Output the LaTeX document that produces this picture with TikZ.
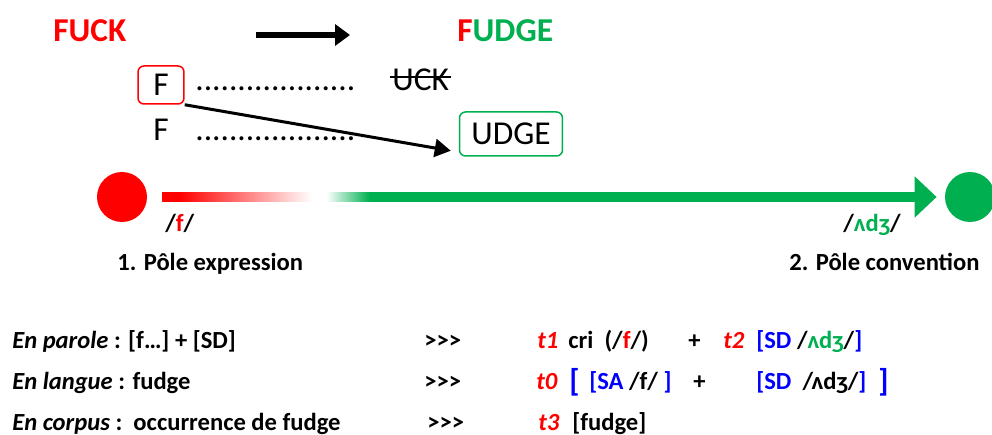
\documentclass[tikz,border=0pt]{standalone}
\usepackage{fontspec}
\setmainfont{Carlito}
\usetikzlibrary{arrows.meta,calc}
\definecolor{pred}{RGB}{255,0,0}
\definecolor{pgreen}{RGB}{0,176,80}
\definecolor{pblue}{RGB}{0,0,255}
% red -> white -> green along the axis
\pgfdeclarehorizontalshading{polebar}{100bp}{color(0bp)=(pred); color(28bp)=(pred);
  color(51bp)=(white); color(53.5bp)=(white); color(61bp)=(pgreen); color(100bp)=(pgreen)}
\newcommand{\ipa}{ʌdʒ}
\begin{document}
\begin{tikzpicture}[x=0.02cm, y=-0.02cm,
    lbl/.style={inner sep=0, anchor=base west},
    bigtxt/.style={font=\fontsize{19}{22}\selectfont},
    rowtxt/.style={lbl, font=\bfseries\fontsize{14}{16}\selectfont},
    pole/.style={circle, inner sep=0, minimum size=1cm},
    frame/.style={draw, rounded corners=0.12cm, line width=0.03cm, bigtxt}]
    \useasboundingbox (0,0) rectangle (992,435);
    % word change
    \node[lbl, font=\bfseries\fontsize{19}{22}\selectfont, text=pred] (fuck) at (53,42) {FUCK};
    \node[lbl, font=\bfseries\fontsize{19}{22}\selectfont] (fudge) at (457,42) {\textcolor{pred}{F}\textcolor{pgreen}{UDGE}};
    \coordinate (wstart) at (256,35);
    \coordinate (wend) at (350,35);
    \draw[line width=0.12cm, -{Triangle[length=0.3cm,width=0.42cm]}] (wstart) -- (wend);
    \node[frame, draw=pred, minimum width=0.92cm, minimum height=0.76cm] (fbox) at (161,85) {F};
    \node[lbl, bigtxt] (dotsA) at (195,91) {...................};
    \node[lbl, bigtxt] (uck) at (392,91) {UCK};
    \draw[line width=0.04cm] ($(uck.west)+(-2,-3)$) -- ($(uck.east)+(2,-3)$);
    \node[inner sep=0, anchor=base, bigtxt] (fplain) at (161,141) {F};
    \node[lbl, bigtxt] (dotsB) at (195,141) {...................};
    \node[frame, draw=pgreen, minimum width=2.06cm, minimum height=0.88cm] (udge) at (511,134) {UDGE};
    \draw[line width=0.06cm, -{Triangle[length=0.32cm,width=0.36cm]}] (fbox.south east) -- ($(udge.south west)+(-8,-6)$);
    % the two poles
    \node[pole, fill=pred] (expr) at (122,197) {};
    \node[pole, fill=pgreen] (conv) at (970,197) {};
    \draw[pgreen, line width=0.2cm, shorten <=0.3cm, shorten >=0.16cm, -{Triangle[length=0.44cm,width=0.8cm]}] (expr) -- (conv);
    \shade[shading=polebar] ($(expr.east)+(15,-4.8)$) rectangle (450,201.8);
    \node[lbl, font=\bfseries\fontsize{14}{16}\selectfont] (fsound) at (165,232) {/\textcolor{pred}{f}/};
    \node[lbl, font=\bfseries\fontsize{14}{16}\selectfont] (adjsound) at (843,232) {/\textcolor{pgreen}{\ipa}/};
    \node[rowtxt] (exprlbl) at (117,271) {1. Pôle expression};
    \node[rowtxt] (convlbl) at (789,271) {2. Pôle convention};
    % parole
    \node[rowtxt] (parole) at (12,349) {\textit{En parole} : [f…] + [SD]};
    \node[rowtxt] (arrA) at (424,349) {>{}>{}>};
    \node[rowtxt, text=pred] (tone) at (537,349) {\textit{t1}};
    \node[rowtxt] (cri) at (568,349) {cri\ \ (/\textcolor{pred}{f}/)};
    \node[rowtxt] (plusA) at (688,349) {+};
    \node[rowtxt, text=pred] (ttwo) at (723,349) {\textit{t2}};
    \node[rowtxt] (sdA) at (756,349) {\textcolor{pblue}{[SD} /\textcolor{pgreen}{\ipa}/\textcolor{pblue}{]}};
    % langue
    \node[rowtxt] (langue) at (12,390) {\textit{En langue} : fudge};
    \node[rowtxt] (arrB) at (424,390) {>{}>{}>};
    \node[rowtxt, text=pred] (tzero) at (536,390) {\textit{t0}};
    \node[lbl, font=\bfseries\fontsize{18}{20}\selectfont, text=pblue] (lbrack) at (569,392) {[};
    \node[rowtxt] (sa) at (589,390) {\textcolor{pblue}{[SA} /f/ \textcolor{pblue}{]}};
    \node[rowtxt] (plusB) at (693,390) {+};
    \node[rowtxt] (sdB) at (756,390) {\textcolor{pblue}{[SD}\ \ /\ipa/\textcolor{pblue}{]}};
    \node[lbl, font=\bfseries\fontsize{18}{20}\selectfont, text=pblue] (rbrack) at (878,392) {]};
    % corpus
    \node[rowtxt] (corpus) at (12,431) {\textit{En corpus} :\ \ occurrence de fudge};
    \node[rowtxt] (arrC) at (427,431) {>{}>{}>};
    \node[rowtxt, text=pred] (tthree) at (538,431) {\textit{t3}};
    \node[rowtxt] (fudgeform) at (572,431) {[fudge]};
\end{tikzpicture}
\end{document}
